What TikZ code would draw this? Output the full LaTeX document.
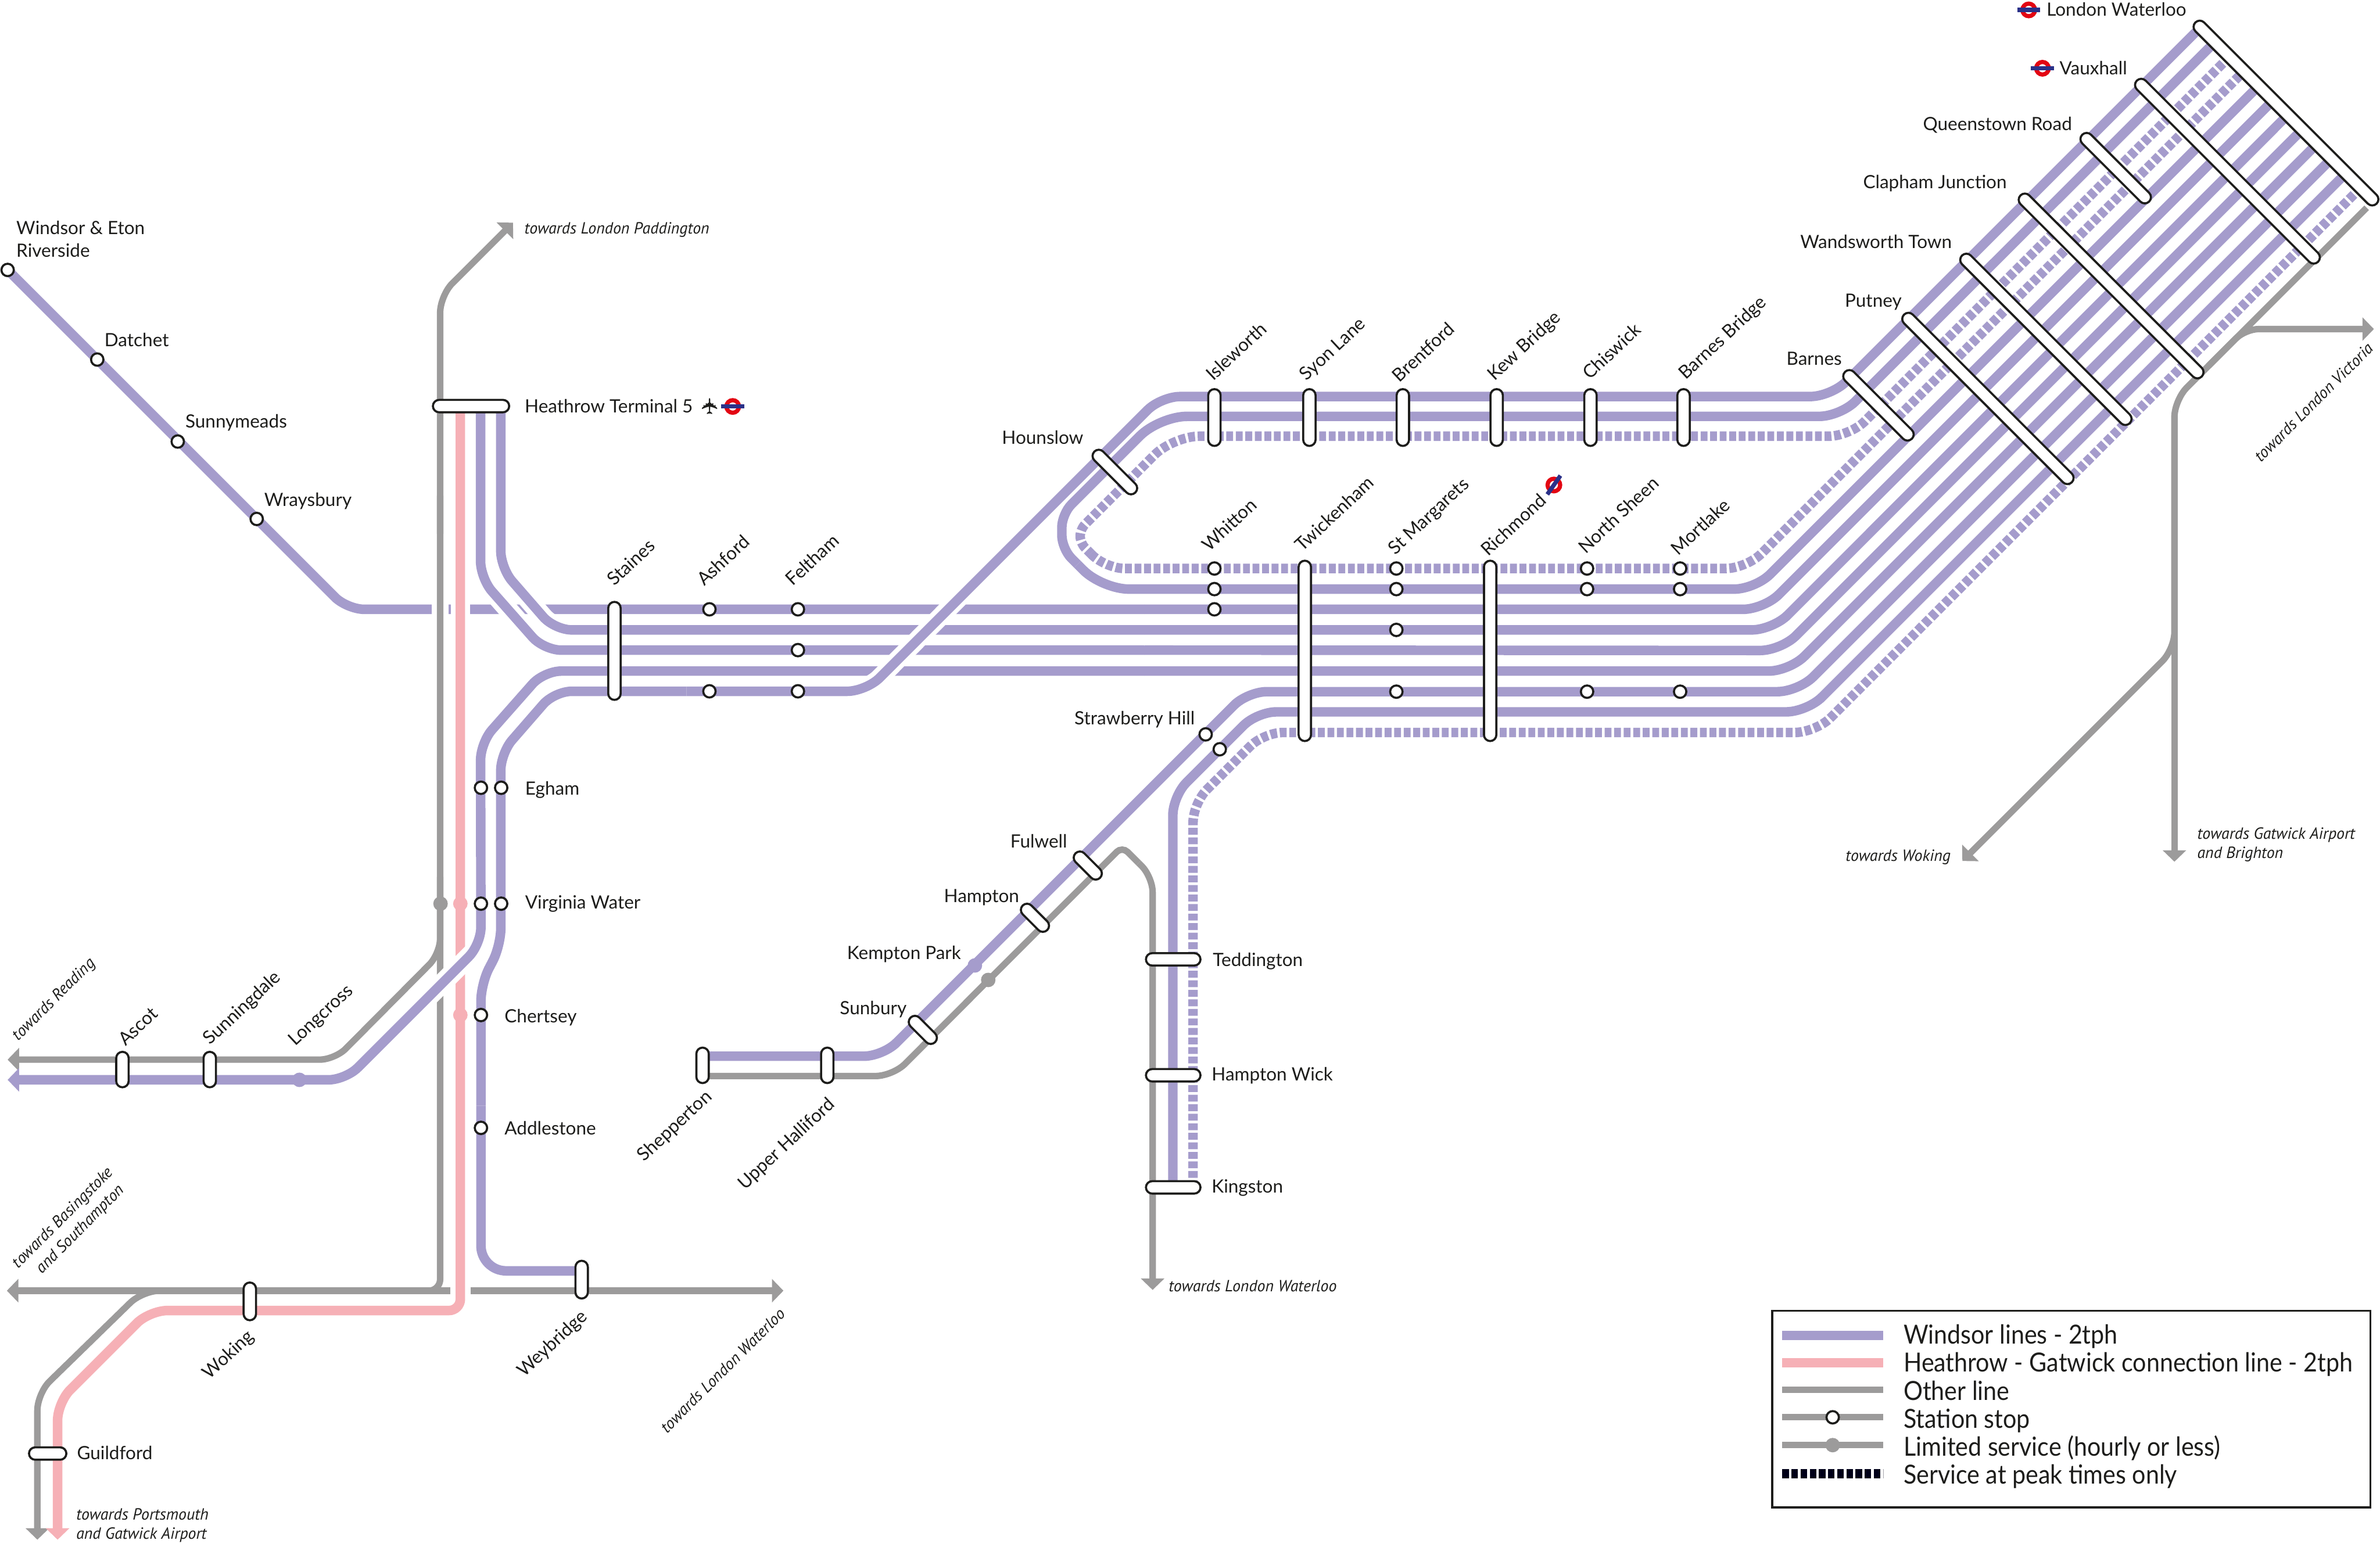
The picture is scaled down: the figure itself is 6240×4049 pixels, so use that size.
\documentclass[tikz,border=0pt]{standalone}
\usepackage{fontspec}
\setmainfont{Lato}
\newfontfamily\towfont{PT Sans}
\newfontfamily\symfont{DejaVu Sans}
\newfontfamily\legfont{Lato}[FakeStretch=0.91]
\usetikzlibrary{arrows.meta,shapes.misc}
\definecolor{wind}{HTML}{A59CCC}
\definecolor{pinkl}{HTML}{F6B0B6}
\definecolor{greyl}{HTML}{9C9B9B}
\definecolor{ink}{HTML}{1D1D1B}
\definecolor{rred}{HTML}{E30613}
\definecolor{rblue}{HTML}{2B3189}
\tikzset{
 x=0.1pt,y=-0.1pt,
 wl/.style={draw=wind,line width=2.5pt,line cap=butt},
 wd/.style={draw=wind,line width=2.5pt,dash pattern=on 1.8pt off .7pt},
 gl/.style={draw=greyl,line width=1.7pt},
 pl/.style={draw=pinkl,line width=2.5pt},
 cas/.style={draw=white,line width=5.1pt},
 tip/.style={-{Triangle[length=3pt,width=6pt]}},
 barst/.style={rounded rectangle,draw=ink,fill=white,line width=.55pt,inner sep=0pt,minimum height=3.25pt,outer sep=0pt},
 stop/.style={circle,draw=ink,fill=white,line width=.55pt,inner sep=0pt,minimum size=3.25pt},
 ltd/.style={circle,inner sep=0pt,minimum size=3.8pt},
 stn/.style={text=ink,inner sep=0pt,anchor=base west,xshift=-.2pt,font=\fontsize{4.8}{5.9}\selectfont},
 rot/.style={text=ink,inner sep=0pt,anchor=base west,xshift=.8pt,yshift=-.4pt,rotate=43,font=\fontsize{4.8}{5.9}\selectfont},
 tow/.style={text=ink,inner sep=0pt,anchor=base west,font=\towfont\itshape\fontsize{4.25}{5}\selectfont},
 towr/.style={tow,rotate=45,xshift=.6pt,yshift=-.7pt},
 leg/.style={text=ink,inner sep=0pt,anchor=base west,font=\legfont\fontsize{6.9}{8}\selectfont},
 ring/.style={circle,draw=rred,line width=1.1pt,inner sep=0pt,minimum size=3.3pt},
 rbar/.style={rectangle,fill=rblue,inner sep=0pt,minimum width=6pt,minimum height=1.1pt},
}
\begin{document}
\begin{tikzpicture}
\useasboundingbox (0,0) rectangle (6240,4049);
\fill[white] (0,0) rectangle (6240,4049);
% Windsor line (passes under the crossing lines)
\draw[wl,rounded corners=4.5pt] (20,708) -- (910,1598) -- (3000,1598);
\draw[wl,rounded corners=5.5pt] (3000,1598) -- (4625,1598) -- (5960,263);
% casings where grey and pink cross it
\draw[draw=white,line width=4.3pt] (1154,1570) -- (1154,1630);
\draw[draw=white,line width=5pt] (1207,1570) -- (1207,1630);
% grey lines
\draw[gl,rounded corners=4.5pt,tip] (1154,1400) -- (1154,775) -- (1345,584);
\draw[gl,rounded corners=3pt] (1154,1300) -- (1154,3385) -- (800,3385);
\draw[gl,rounded corners=4pt,tip] (1154,2300) -- (1154,2501) -- (878,2779) -- (20,2779);
\draw[gl,tip] (400,3385) -- (18,3385);
\draw[gl,tip] (400,3385) -- (2054,3385);
\draw[gl,rounded corners=4.5pt,tip] (800,3385) -- (374,3385) -- (98,3654) -- (98,4038);
\draw[gl,rounded corners=4.5pt] (6205,545) -- (5701,1049) -- (5701,1500);
\draw[gl,rounded corners=3.5pt,tip] (5790,960) -- (5887,863) -- (6224,863);
\draw[gl,tip] (5701,1400) -- (5701,2260);
\draw[gl,rounded corners=4.4pt,tip] (5701,1500) -- (5701,1702) -- (5145,2258);
\draw[gl,rounded corners=4.5pt] (1842,2822) -- (2341,2822) -- (2640,2522);
\draw[gl,rounded corners=2pt] (2640,2522) -- (2942,2220) -- (2985,2263);
\draw[gl,rounded corners=4pt,tip] (2985,2263) -- (3022,2300) -- (3022,3383);
% pink line
\draw[draw=white,line width=5.4pt] (1207,3366) -- (1207,3404);
\draw[pl,rounded corners=3pt] (1207,1065) -- (1207,3437) -- (800,3437);
\draw[pl,rounded corners=4.7pt,tip] (800,3437) -- (392,3437) -- (151,3678) -- (151,4038);
% casings of Windsor-line diagonals over Windsor line, grey and pink
\draw[cas,rounded corners=4.5pt] (1260,1450) -- (1260,1517) -- (1426,1705) -- (1500,1705);
\draw[cas,rounded corners=4.5pt] (1313,1450) -- (1313,1490) -- (1454,1652) -- (1530,1652);
\draw[cas] (1245,2493) -- (1030,2708);
% Windsor lines
\draw[wl,rounded corners=4.5pt] (1260,1065) -- (1260,1517) -- (1426,1705) -- (3000,1705);
\draw[wl,rounded corners=5.5pt] (3000,1705) -- (4670,1706) -- (6036.5,339.5);
\draw[wl,rounded corners=4.5pt] (1313,1065) -- (1313,1490) -- (1454,1652) -- (3000,1652);
\draw[wl,rounded corners=5.5pt] (3000,1652) -- (4648,1652) -- (5998.3,301.3);
\draw[wl,rounded corners=5.5pt] (6074.5,377.5) -- (4692,1760) -- (3000,1760);
\draw[wl,rounded corners=4.5pt,tip] (3000,1760) -- (1426,1760) -- (1260,1948) -- (1261,2477) -- (906,2832) -- (20,2832);
\draw[wl,rounded corners=4.5pt] (1800,1813) -- (1454,1813) -- (1313,1975) -- (1313,2480) -- (1261,2580) -- (1261,2900);
\draw[wl,rounded corners=6.6pt] (1261,2900) -- (1261,3333) -- (1525,3333);
% Hounslow branch crossing the main lines
\draw[cas,line width=4.9pt,rounded corners=5pt] (1900,1813) -- (2271,1813) -- (2600,1482);
\draw[wl,rounded corners=5pt] (1800,1813) -- (2271,1813) -- (3044,1040) -- (3900,1040);
\draw[wl,rounded corners=5.5pt] (3900,1040) -- (4801,1040) -- (5769,72);
% hairpin solid
\draw[wl,rounded corners=5.5pt] (5807.2,110.2) -- (4825,1092) -- (3900,1092);
\draw[wl,rounded corners=7.2pt] (3900,1092) -- (3040,1092) -- (2900,1232);
\draw[wl,rounded corners=3.5pt] (2900,1232) -- (2784,1348) -- (2784,1439) -- (2825,1480);
\draw[wl,rounded corners=7pt] (2825,1480) -- (2890,1545) -- (3300,1545);
\draw[wl,rounded corners=5.5pt] (3300,1545) -- (4602,1545) -- (5922,225);
% hairpin dashed
\draw[wd,rounded corners=5.5pt] (5845.5,148.5) -- (4850,1144) -- (3433,1144);
\draw[wd,rounded corners=6.9pt] (3433,1144) -- (3076,1144) -- (2950,1270);
\draw[wd,rounded corners=1.8pt] (2950,1270) -- (2832,1388) -- (2832,1424) -- (2860,1452);
\draw[wd,rounded corners=5pt] (2860,1452) -- (2899,1491) -- (3184,1491);
\draw[wd,rounded corners=5.5pt] (3184,1491) -- (4579,1491) -- (5883.5,186.5);
% Shepperton and Kingston branches
\draw[wl,rounded corners=5pt] (1842,2770) -- (2315,2770) -- (3271,1814) -- (3900,1814);
\draw[wl,rounded corners=5.5pt] (3900,1814) -- (4715,1814) -- (6113,416);
\draw[wl,rounded corners=5pt] (3075,3114) -- (3075,2088) -- (3296,1867) -- (3900,1867);
\draw[wl,rounded corners=5.5pt] (3900,1867) -- (4738,1867) -- (6151,454);
\draw[wd,rounded corners=5pt] (3128,3114) -- (3128,2107) -- (3314,1921) -- (3907,1921);
\draw[wd,rounded corners=5.5pt] (3907,1921) -- (4761,1921) -- (6189.3,492.3);
% long bars
\node[barst,minimum width=67.2pt,rotate=-45] (waterloo) at (5993.5,296.5) {};
\node[barst,minimum width=67.2pt,rotate=-45] (vauxhall) at (5840,449) {};
\node[barst,minimum width=24.8pt,rotate=-45] (queenstown) at (5547,441) {};
\node[barst,minimum width=67.2pt,rotate=-45] (clapham) at (5535,750) {};
\node[barst,minimum width=62.2pt,rotate=-45] (wandsworth) at (5364,890) {};
\node[barst,minimum width=62.2pt,rotate=-45] (putney) at (5212,1045) {};
\node[barst,minimum width=24.8pt,rotate=-45] (barnes) at (4925,1063) {};
\node[barst,minimum width=15.2pt,rotate=-45] (hounslow) at (2923,1238) {};
\foreach \n/\x in {isleworth/3184,syon/3433,brentford/3678,kew/3924,chiswick/4170,barnesbr/4414}
  \node[barst,minimum width=14.9pt,rotate=90] (\n) at (\x,1095) {};
\node[barst,minimum width=47.3pt,rotate=90] (twick) at (3421,1707) {};
\node[barst,minimum width=47.3pt,rotate=90] (richmond) at (3907,1707) {};
\node[barst,minimum width=25.7pt,rotate=90] (staines) at (1611,1707) {};
\node[barst,minimum width=20pt] (heathrow) at (1235,1065) {};
\node[barst,minimum width=9.8pt] (guildford) at (125,3812) {};
\node[barst,minimum width=9.9pt,rotate=90] (woking) at (655,3413) {};
\node[barst,minimum width=9.9pt,rotate=90] (weybridge) at (1525,3356) {};
\node[barst,minimum width=9.3pt,rotate=90] (ascot) at (321,2805) {};
\node[barst,minimum width=9.3pt,rotate=90] (sunningdale) at (550,2805) {};
\node[barst,minimum width=9.3pt,rotate=90] (shepperton) at (1842,2794) {};
\node[barst,minimum width=9.3pt,rotate=90] (upperh) at (2169,2794) {};
\node[barst,minimum width=9.1pt,rotate=-45] (fulwell) at (2852,2270) {};
\node[barst,minimum width=9.1pt,rotate=-45] (hampton) at (2713.5,2407) {};
\node[barst,minimum width=9.1pt,rotate=-45] (sunbury) at (2419.5,2701) {};
\node[barst,minimum width=14.3pt] (teddington) at (3076,2516) {};
\node[barst,minimum width=14.3pt] (hamptonw) at (3076,2820) {};
\node[barst,minimum width=14.3pt] (kingston) at (3076,3114) {};
% stops
\foreach \n/\x/\y in {windsor/20/708,datchet/255/943,sunnymeads/466/1158,wraysbury/673/1361,
  ashforda/1860/1598,ashfordb/1860/1813,felthama/2092/1598,felthamb/2092/1705,felthamc/2092/1813,
  whittona/3184/1491,whittonb/3184/1545,whittonc/3184/1598,
  stma/3661/1491,stmb/3661/1545,stmc/3661/1652,stmd/3661/1814,
  sheena/4161/1491,sheenb/4161/1545,sheenc/4161/1814,
  morta/4405/1491,mortb/4405/1545,mortc/4405/1814,
  strawa/3161/1926,strawb/3198/1965,
  eghama/1261/2066,eghamb/1314/2066,vwa/1261/2370,vwb/1314/2370,chertsey/1261/2662,addlestone/1261/2958}
  \node[stop] (\n) at (\x,\y) {};
% limited service dots
\node[ltd,fill=greyl] (vwgrey) at (1155,2370) {};
\node[ltd,fill=pinkl] (vwpink) at (1207,2370) {};
\node[ltd,fill=pinkl] (chpink) at (1207,2662) {};
\node[ltd,fill=wind] (longcross) at (785,2832) {};
\node[ltd,fill=wind] (kemptonw) at (2556,2532) {};
\node[ltd,fill=greyl] (kemptong) at (2591,2570) {};
% roundels
\node[ring] (r1) at (5319,26) {}; \node[rbar] (r1b) at (r1) {};
\node[ring] (r2) at (5355,179) {}; \node[rbar] (r2b) at (r2) {};
\node[ring] (r3) at (1921,1066) {}; \node[rbar] (r3b) at (r3) {};
\node[ring] (r4) at (4074,1272) {}; \node[rbar,rotate=55] (r4b) at (r4) {};
\node[inner sep=0pt,text=ink,font=\symfont\fontsize{5.8}{6}\selectfont,rotate=90] (plane) at (1861,1066) {✈};
% horizontal labels
\node[stn,align=left,anchor=north west] (lwindsor) at (43,578) {Windsor \& Eton\\Riverside};
\node[stn] (ldatchet) at (274,908) {Datchet};
\node[stn] (lsunny) at (486,1122) {Sunnymeads};
\node[stn] (lwray) at (693,1327) {Wraysbury};
\node[stn] (lheath) at (1376,1082) {Heathrow Terminal 5};
\node[stn] (lwat) at (5366,42) {London Waterloo};
\node[stn] (lvaux) at (5400,196) {Vauxhall};
\node[stn] (lqueen) at (5042,342) {Queenstown Road};
\node[stn] (lclap) at (4885,495) {Clapham Junction};
\node[stn] (lwand) at (4720,651) {Wandsworth Town};
\node[stn] (lput) at (4837,805) {Putney};
\node[stn] (lbar) at (4684,958) {Barnes};
\node[stn] (lhoun) at (2627,1165) {Hounslow};
\node[stn] (lstraw) at (2817,1900) {Strawberry Hill};
\node[stn] (lful) at (2649,2223) {Fulwell};
\node[stn] (lhamp) at (2475,2366) {Hampton};
\node[stn] (lkemp) at (2221,2516) {Kempton Park};
\node[stn] (lsunb) at (2202,2661) {Sunbury};
\node[stn] (ltedd) at (3180,2534) {Teddington};
\node[stn] (lhw) at (3177,2835) {Hampton Wick};
\node[stn] (lking) at (3177,3129) {Kingston};
\node[stn] (legham) at (1377,2085) {Egham};
\node[stn] (lvw) at (1377,2383) {Virginia Water};
\node[stn] (lchert) at (1323,2682) {Chertsey};
\node[stn] (ladd) at (1323,2976) {Addlestone};
\node[stn] (lguild) at (202,3827) {Guildford};
% rotated labels
\node[rot] (lstaines) at (1601,1536) {Staines};
\node[rot] (lashford) at (1837,1536) {Ashford};
\node[rot] (lfeltham) at (2070,1536) {Feltham};
\node[rot] (lisle) at (3172,998) {Isleworth};
\node[rot] (lsyon) at (3416,998) {Syon Lane};
\node[rot] (lbrent) at (3660,1002) {Brentford};
\node[rot] (lkew) at (3909,998) {Kew Bridge};
\node[rot] (lchis) at (4159,995) {Chiswick};
\node[rot] (lbb) at (4410,995) {Barnes Bridge};
\node[rot] (lwhit) at (3161,1446) {Whitton};
\node[rot] (ltwick) at (3405,1446) {Twickenham};
\node[rot] (lstm) at (3649,1454) {St Margarets};
\node[rot] (lrich) at (3893,1458) {Richmond};
\node[rot] (lsheen) at (4148,1451) {North Sheen};
\node[rot] (lmort) at (4391,1456) {Mortlake};
\node[rot] (lascot) at (320,2742) {Ascot};
\node[rot] (lsunn) at (542,2739) {Sunningdale};
\node[rot] (llong) at (765,2742) {Longcross};
\node[rot] (lshep) at (1680,3045) {Shepperton};
\node[rot] (lupper) at (1944,3119) {Upper Halliford};
\node[rot] (lwok) at (540,3617) {Woking};
\node[rot] (lwey) at (1365,3610) {Weybridge};
% towards labels
\node[tow] (tpad) at (1373,613) {towards London Paddington};
\node[tow] (tkin) at (3062,3387) {towards London Waterloo};
\node[tow] (tport) at (198,3986) {towards Portsmouth};
\node[tow] (tgat) at (198,4036) {and Gatwick Airport};
\node[tow] (tgw) at (5759,2201) {towards Gatwick Airport};
\node[tow] (tbr) at (5759,2251) {and Brighton};
\node[tow] (twok) at (4837,2258) {towards Woking};
\node[towr] (trea) at (38,2732) {towards Reading};
\node[towr] (tbas) at (38,3328) {towards Basingstoke};
\node[towr] (tsou) at (100,3342) {and Southampton};
\node[towr] (twat) at (1739,3761) {towards London Waterloo};
\node[towr] (tvic) at (5918,1214) {towards London Victoria};
% legend
\node[rectangle,draw=ink,line width=.5pt,inner sep=0pt,minimum width=156.8pt,minimum height=51.6pt,anchor=north west] (legbox) at (4644,3435) {};
\coordinate (la1) at (4673,3502); \coordinate (lb1) at (4937,3502);
\coordinate (la2) at (4673,3574); \coordinate (lb2) at (4937,3574);
\coordinate (la3) at (4673,3645); \coordinate (lb3) at (4937,3645);
\coordinate (la4) at (4673,3717); \coordinate (lb4) at (4937,3717);
\coordinate (la5) at (4673,3790); \coordinate (lb5) at (4937,3790);
\coordinate (la6) at (4673,3865); \coordinate (lb6) at (4937,3865);
\draw[wl] (la1) -- (lb1);
\draw[pl] (la2) -- (lb2);
\draw[gl] (la3) -- (lb3);
\draw[gl] (la4) -- (lb4);
\draw[gl] (la5) -- (lb5);
\draw[draw=black!90!blue,line width=2.5pt,dash pattern=on 1.7pt off .7pt] (la6) -- (lb6);
\node[stop] (lgs) at (4805,3717) {};
\node[ltd,fill=greyl] (lgl) at (4805,3790) {};
\node[leg] (t1) at (4989,3525) {Windsor lines - 2tph};
\node[leg] (t2) at (4989,3598) {Heathrow - Gatwick connection line - 2tph};
\node[leg] (t3) at (4989,3672) {Other line};
\node[leg] (t4) at (4989,3745) {Station stop};
\node[leg] (t5) at (4989,3819) {Limited service (hourly or less)};
\node[leg] (t6) at (4989,3892) {Service at peak times only};
\end{tikzpicture}
\end{document}
